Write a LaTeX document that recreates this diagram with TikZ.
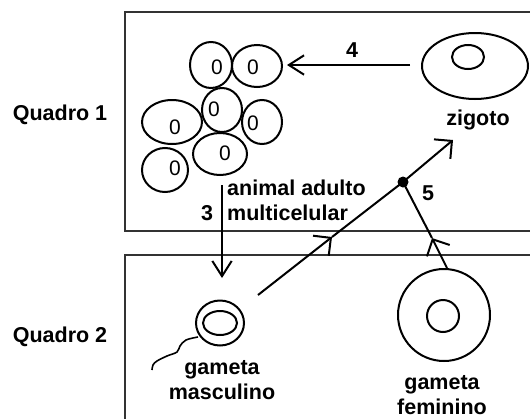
\documentclass[tikz,border=0pt]{standalone}
\usepackage{fontspec}
\setmainfont{Liberation Sans}
\usetikzlibrary{arrows.meta,shapes.geometric}
\begin{document}
\begin{tikzpicture}[x=1pt,y=-1pt,
  lbl/.style={font=\fontsize{21.5}{25}\selectfont\bfseries, inner sep=0pt},
  zero/.style={font=\fontsize{21}{24}\selectfont, inner sep=0pt},
  cell/.style={draw, ellipse, line width=2pt, inner sep=0pt},
  frame/.style={draw=black!80, line width=1.2pt},
  conn/.style={line width=2pt},
  tipN/.style={-{Straight Barb[angle=65:18pt, line width=2pt]}},
  tipW/.style={-{Straight Barb[angle=90:18pt, line width=2pt]}}
]
\useasboundingbox (0,0) rectangle (530,418);
\clip (0,0) rectangle (530,418);

% frames
\draw[frame] (545,12) -- (125,12) -- (125,231) -- (545,231);
\draw[frame] (545,255) -- (125,255) -- (125,430);

% side labels
\node[lbl] (q1) at (60,115) {Quadro 1};
\node[lbl] (q2) at (60,337) {Quadro 2};

% multicellular animal
\node[cell, minimum width=42pt, minimum height=46pt] (cA) at (211,65) {};
\node[cell, minimum width=50pt, minimum height=42pt] (cB) at (257,66) {};
\node[cell, minimum width=40pt, minimum height=44pt] (cC) at (222,110) {};
\node[cell, minimum width=60pt, minimum height=44pt] (cD) at (172,122) {};
\node[cell, minimum width=40pt, minimum height=44pt] (cE) at (262,122) {};
\node[cell, minimum width=54pt, minimum height=42pt] (cF) at (220,154) {};
\node[cell, minimum width=46pt, minimum height=44pt] (cG) at (165,170) {};
\node[zero] (zA) at (217,67) {0};
\node[zero] (zB) at (253,67) {0};
\node[zero] (zC) at (214,109) {0};
\node[zero] (zD) at (175,127) {0};
\node[zero] (zE) at (253,123) {0};
\node[zero] (zF) at (225,153) {0};
\node[zero] (zG) at (175,168) {0};

\node[lbl, anchor=west, align=left] (adult) at (227,200) {animal adulto\\multicelular};

% zygote
\node[cell, minimum width=106pt, minimum height=66pt] (zO) at (475,66) {};
\node[cell, minimum width=32pt, minimum height=24pt] (zI) at (468,57) {};
\node[lbl] (zig) at (478,120) {zigoto};

% male gamete
\node[cell, minimum width=48pt, minimum height=45pt] (mO) at (220,323) {};
\node[cell, minimum width=34pt, minimum height=24pt] (mI) at (220,323) {};
\node[lbl, align=center] (mtxt) at (222,380) {gameta\\masculino};
\draw[line width=1.6pt] plot[smooth, tension=0.6] coordinates
  {(198,337) (186,340) (180,346) (177,352) (167,356) (157,361) (153,365) (152,370)};

% female gamete
\node[cell, minimum size=92pt, circle] (fO) at (444,315) {};
\node[cell, minimum size=32pt, circle] (fI) at (443,316) {};
\node[lbl, align=center] (ftxt) at (442,395) {gameta\\feminino};

% numbers
\node[lbl] (n4) at (352,50) {4};
\node[lbl] (n3) at (207,213) {3};
\node[lbl] (n5) at (428,193) {5};

% arrow 4
\coordinate (a4s) at (410,65);
\coordinate (a4e) at (287,65);
\draw[conn, tipN] (a4s) -- (a4e);

% arrow 3
\coordinate (a3s) at (222,185);
\coordinate (a3e) at (222,278);
\draw[conn, tipN] (a3s) -- (a3e);

% fertilisation
\node[circle, fill, inner sep=0pt, minimum size=11pt] (jn) at (403,182) {};
\coordinate (ms) at (258,295);
\coordinate (m1) at (332,237);
\coordinate (zt) at (453,140);
\coordinate (fs) at (447,268);
\coordinate (m2) at (432,238);
\draw[conn, tipW] (ms) -- (m1);
\draw[conn] (m1) -- (jn.center);
\draw[conn, tipW] (jn.center) -- (zt);
\draw[conn, tipW] (fs) -- (m2);
\draw[conn] (m2) -- (jn.center);
\end{tikzpicture}
\end{document}
